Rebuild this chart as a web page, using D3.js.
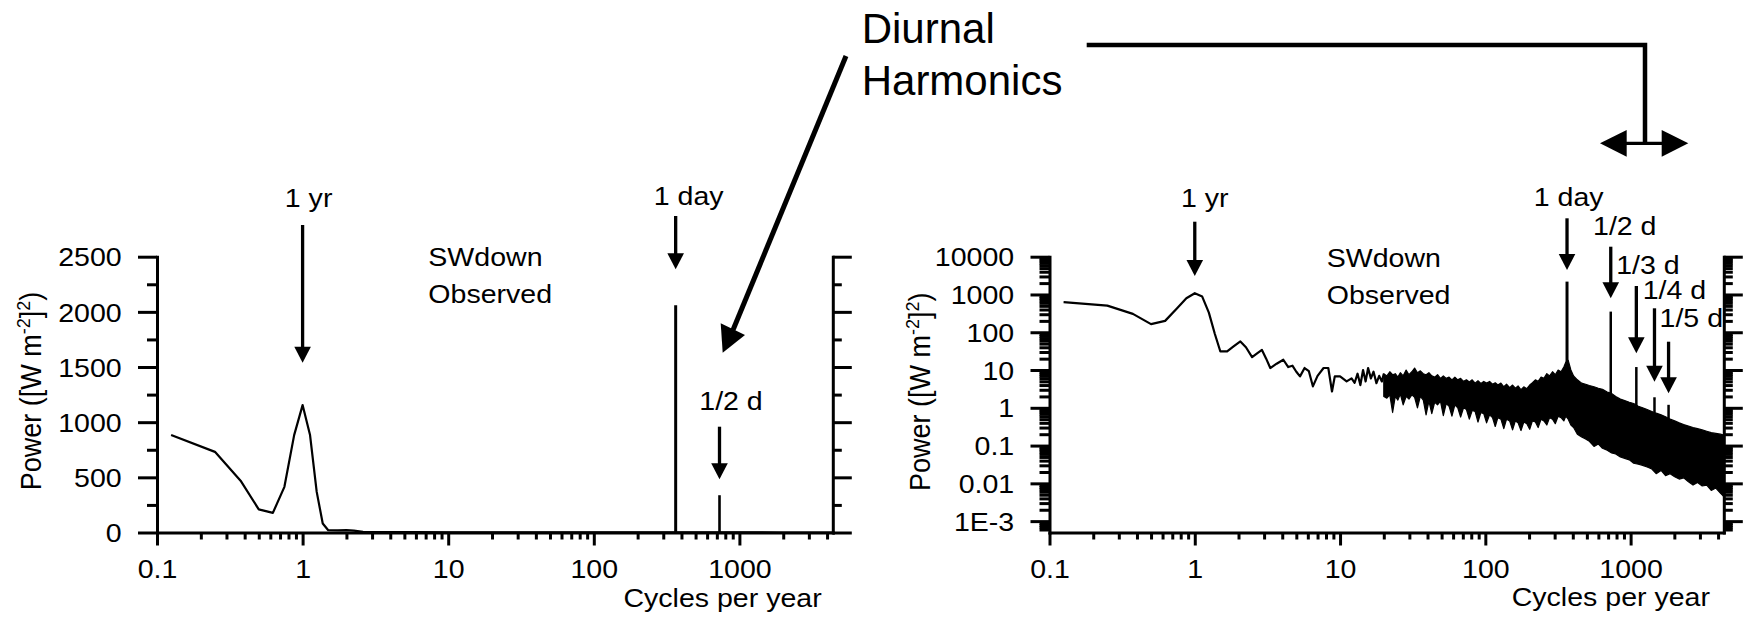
<!DOCTYPE html>
<html>
<head>
<meta charset="utf-8">
<script src="https://cdn.jsdelivr.net/npm/d3@7"></script>
<style>
  body { margin: 0; background: #fff; }
  text { fill: #000; }
</style>
</head>
<body>
<svg id="chart" width="1751" height="617"></svg>
<script>
// ---- data (cycles per year -> power, [W m-2]^2) ----

// linear panel, smooth part of the spectrum
const linFreq  = [0.125, 0.25, 0.375, 0.5, 0.625, 0.75, 0.875, 1.0, 1.125, 1.25, 1.375, 1.5, 1.75, 2.0, 2.25, 2.6, 3.0, 4.0, 6.0, 10, 20, 50, 100, 200, 300, 500, 1000, 2000, 4380];
const linPower = [883, 731, 470, 209, 178, 414, 883, 1155, 883, 368, 82, 21, 20, 21, 17, 6, 4, 3, 3, 2, 2, 1.5, 1, 1, 1, 0.5, 0.3, 0.2, 0.2];

// log panel, low-frequency line
const logFreq  = [0.125, 0.25, 0.375, 0.5, 0.625, 0.75, 0.875, 1.0, 1.125, 1.25, 1.375, 1.5, 1.67, 1.85, 2.06, 2.25, 2.48, 2.7, 2.9, 3.1, 3.31, 3.66, 4.07, 4.4, 4.7, 5.0, 5.3, 5.7, 6.1, 6.5, 7.0, 7.7, 8.3, 8.8, 9.2, 10.0, 11.1, 12.0, 12.6, 13.2, 13.8, 14.4, 15.0, 15.6, 16.3, 17.0, 17.8, 18.6, 19.4, 20];
const logPower = [624, 508, 307, 164, 200, 420, 796, 1080, 880, 330, 90, 31, 31, 42, 57, 40, 22, 28, 34, 20, 11.3, 14.7, 18.7, 12, 13, 9, 6.8, 11.3, 9.3, 3.7, 7, 11.3, 11.3, 2.7, 6.8, 6.8, 5, 6, 4.6, 8, 4, 10, 5, 11.3, 6, 9, 4.5, 7, 5, 8];

// log panel, dense high-frequency part: upper / lower envelope
const bandFreq = [20, 21, 22, 23, 24, 25, 26, 27.2, 28.5, 29.8, 31.2, 32.6, 34.1, 35.7, 37.4, 39.1, 40.9, 42.8, 44.8, 46.9,
                  49.1, 51.4, 53.8, 56.3, 58.9, 61.7, 64.6, 67.6, 70.8, 74.1, 77.6, 81.2, 85, 89, 93.2, 97.5, 102, 107, 112, 117,
                  122, 128, 134, 140, 147, 154, 161, 168, 176, 184, 193, 202, 211, 221, 231, 242, 253, 265, 277, 290,
                  303, 317, 332, 347, 358, 372, 388, 405, 430, 460, 490, 520, 560, 600, 640, 690, 740, 790, 850, 910,
                  980, 1050, 1130, 1210, 1300, 1400, 1500, 1620, 1740, 1870, 2010, 2160, 2320, 2500, 2690, 2890, 3110, 3340, 3590, 3860,
                  4150, 4380];
const bandHi   = [8, 7, 9, 7.5, 8, 6.5, 8.5, 7, 10, 7.5, 9, 11.3, 8.5, 9.5, 8, 7.5, 8.5, 7, 6.5, 7.5,
                  6, 7, 6, 6.5, 5.5, 6.5, 5.5, 6, 5, 5.5, 4.8, 5.5, 4.5, 5.2, 4.4, 5, 4.5, 5, 4.2, 4.6,
                  4, 4.5, 3.6, 4.2, 3.4, 4, 3.3, 3.8, 3, 3.6, 3.2, 4, 4.6, 5.5, 5, 6.5, 6, 8, 7, 9,
                  7.5, 10, 9, 12, 16, 18, 10, 7, 5.5, 4.5, 4.2, 3.9, 3.6, 3.3, 3.1, 2.6, 2.4, 2.0, 1.7, 1.55,
                  1.4, 1.3, 1.1, 1.0, 0.9, 0.8, 0.72, 0.65, 0.58, 0.5, 0.45, 0.4, 0.36, 0.33, 0.3, 0.28, 0.26, 0.24, 0.22, 0.21,
                  0.2, 0.19];
const bandLo   = [2, 1.8, 2.2, 0.75, 2, 1.6, 2.3, 1.2, 2, 1.7, 2.2, 1.9, 1.0, 2, 1.6, 0.65, 1.5, 0.7, 1.4, 1.2,
                  1.5, 0.62, 1.3, 1.1, 0.6, 1.2, 1.0, 0.57, 1.0, 0.9, 0.5, 0.85, 0.8, 0.42, 0.75, 0.7, 0.4, 0.65, 0.55, 0.32,
                  0.55, 0.5, 0.28, 0.5, 0.45, 0.26, 0.45, 0.4, 0.25, 0.42, 0.38, 0.27, 0.45, 0.42, 0.3, 0.5, 0.45, 0.35, 0.55, 0.5,
                  0.38, 0.6, 0.55, 0.45, 0.6, 0.5, 0.35, 0.3, 0.2, 0.17, 0.15, 0.13, 0.095, 0.11, 0.085, 0.075, 0.064, 0.06, 0.05, 0.046,
                  0.042, 0.034, 0.032, 0.03, 0.027, 0.024, 0.018, 0.022, 0.016, 0.018, 0.015, 0.013, 0.014, 0.011, 0.009, 0.0105, 0.0085, 0.009, 0.0065, 0.0075,
                  0.0055, 0.0045];

// diurnal harmonics
const harmFreq    = [365, 730, 1095, 1460, 1825];
const harmLabel   = ['1 day', '1/2 d', '1/3 d', '1/4 d', '1/5 d'];
const harmPeakLin = [2060, 338];
const harmPeakLog = [2190, 352, 12, 1.9, 1.2];
const harmBaseLog = [1, 0.2, 0.1, 0.05, 0.04];

// axes
const xMajor = [0.1, 1, 10, 100, 1000];
const xMajorLabels = ['0.1', '1', '10', '100', '1000'];
const linMajor = [0, 500, 1000, 1500, 2000, 2500];
const linMinor = [250, 750, 1250, 1750, 2250];
const logMajor = [1e-3, 1e-2, 0.1, 1, 10, 100, 1000, 10000];
const logMajorLabels = ['1E-3', '0.01', '0.1', '1', '10', '100', '1000', '10000'];

// ---- drawing ----
const FONT = '"Liberation Sans", Arial, Helvetica, sans-serif';
const FS = 25.5;        // plot text size
const SX = 1.12;        // the plot text is a bit wider than it is tall
const svg = d3.select('#chart').attr('font-family', FONT);

function logMinor(lo, hi) {
  const out = [];
  for (let e = -4; e <= 4; e++) {
    for (let k = 2; k <= 9; k++) {
      const v = k * Math.pow(10, e);
      if (v > lo && v < hi) out.push(v);
    }
  }
  return out;
}

function label(g, x, y, s, anchor) {
  return g.append('text')
    .attr('transform', `translate(${x},${y}) scale(${SX},1)`)
    .attr('text-anchor', anchor || 'middle')
    .attr('font-size', FS)
    .text(s);
}

function arrow(g, x, y0, y1, w) {
  const head = 16, half = 8.3;
  g.append('line')
    .attr('x1', x).attr('x2', x)
    .attr('y1', y0).attr('y2', y1 - head + 1)
    .attr('stroke', '#000').attr('stroke-width', w || 3.3);
  g.append('path')
    .attr('d', `M${x},${y1}L${x - half},${y1 - head}L${x + half},${y1 - head}Z`)
    .attr('fill', '#000');
}

function styleAxis(sel) {
  sel.attr('font-size', FS).attr('font-family', FONT);
  sel.selectAll('line,path').attr('stroke', '#000').attr('stroke-width', 3);
  sel.select('.domain').attr('stroke-linecap', 'square');
}

function drawAxes(g, x, y, yMajor, yMinor, yFmt) {
  const [x0, x1] = x.range();
  const [yb] = y.range();
  const xDom = x.domain();
  const xMinor = logMinor(xDom[0], xDom[1]);

  // bottom axis
  const bx = g.append('g').attr('transform', `translate(0,${yb})`)
    .call(d3.axisBottom(x).tickValues(xMajor).tickSize(13).tickSizeOuter(0)
      .tickFormat((d, i) => xMajorLabels[i]));
  const bxm = g.append('g').attr('transform', `translate(0,${yb})`)
    .call(d3.axisBottom(x).tickValues(xMinor).tickSize(7).tickSizeOuter(0).tickFormat(''));
  bxm.select('.domain').remove();
  styleAxis(bx); styleAxis(bxm);
  bx.selectAll('text').attr('y', 45.5).attr('dy', 0)
    .attr('transform', `scale(${SX},1)`);

  // left axis
  const ly = g.append('g').attr('transform', `translate(${x0},0)`)
    .call(d3.axisLeft(y).tickValues(yMajor).tickSize(19).tickSizeOuter(0).tickFormat(yFmt));
  const lym = g.append('g').attr('transform', `translate(${x0},0)`)
    .call(d3.axisLeft(y).tickValues(yMinor).tickSize(10).tickSizeOuter(0).tickFormat(''));
  lym.select('.domain').remove();
  styleAxis(ly); styleAxis(lym);
  ly.selectAll('text').attr('x', -35.3 / SX).attr('dy', '0.36em')
    .attr('transform', `scale(${SX},1)`);

  // right mirror axis, no labels
  const ry = g.append('g').attr('transform', `translate(${x1},0)`)
    .call(d3.axisRight(y).tickValues(yMajor).tickSize(19).tickSizeOuter(0).tickFormat(''));
  const rym = g.append('g').attr('transform', `translate(${x1},0)`)
    .call(d3.axisRight(y).tickValues(yMinor).tickSize(9).tickSizeOuter(0).tickFormat(''));
  rym.select('.domain').remove();
  styleAxis(ry); styleAxis(rym);
}

function yTitle(g, x, y) {
  const t = g.append('text')
    .attr('transform', `translate(${x},${y}) rotate(-90) scale(1,1.06)`)
    .attr('text-anchor', 'middle')
    .attr('font-size', 27);
  t.append('tspan').text('Power ([W m');
  t.append('tspan').attr('dy', -10).attr('font-size', 18).text('-2');
  t.append('tspan').attr('dy', 10).text(']');
  t.append('tspan').attr('dy', -10).attr('font-size', 18).text('2');
  t.append('tspan').attr('dy', 10).text(')');
}

// ===== left panel: linear power =====
{
  const g = svg.append('g');
  const x = d3.scaleLog().domain([0.1, 4380]).range([157, 832.8]);
  const y = d3.scaleLinear().domain([0, 2500]).range([532.5, 256.7]);

  const pts = linFreq.map((f, i) => [f, linPower[i]]);
  g.append('path')
    .attr('d', d3.line().x(d => x(d[0])).y(d => y(d[1]))(pts))
    .attr('fill', 'none').attr('stroke', '#000').attr('stroke-width', 2.2)
    .attr('stroke-linejoin', 'round');

  harmPeakLin.forEach((p, i) => {
    g.append('line')
      .attr('x1', x(harmFreq[i])).attr('x2', x(harmFreq[i]))
      .attr('y1', y(0)).attr('y2', y(p))
      .attr('stroke', '#000').attr('stroke-width', i === 0 ? 3 : 2.6);
  });

  drawAxes(g, x, y, linMajor, linMinor, d => String(d));
  yTitle(g, 41, 391);

  label(g, x(1) + 6, 206.7, '1 yr');
  arrow(g, x(1), 225, 362.7);
  label(g, x(harmFreq[0]) + 13, 205, harmLabel[0]);
  arrow(g, x(harmFreq[0]), 216, 269.3);
  label(g, x(harmFreq[1]) + 11.5, 410, harmLabel[1]);
  arrow(g, x(harmFreq[1]), 426.7, 479.3);

  label(g, 428.3, 266, 'SWdown', 'start');
  label(g, 428.3, 302.7, 'Observed', 'start');
  label(g, 821.7, 607, 'Cycles per year', 'end');
}

// ===== right panel: log power =====
{
  const g = svg.append('g');
  const x = d3.scaleLog().domain([0.1, 4380]).range([1049.5, 1723.8]);
  const y = d3.scaleLog().domain([5e-4, 1e4]).range([532.5, 256.7]);

  const band = bandFreq.map((f, i) => ({ f, hi: bandHi[i], lo: bandLo[i] }));
  g.append('path')
    .attr('d', d3.area().x(d => x(d.f)).y0(d => y(d.lo)).y1(d => y(d.hi))(band))
    .attr('fill', '#000').attr('stroke', '#000').attr('stroke-width', 1.2)
    .attr('stroke-linejoin', 'round');

  const pts = logFreq.map((f, i) => [f, logPower[i]]);
  g.append('path')
    .attr('d', d3.line().x(d => x(d[0])).y(d => y(d[1]))(pts))
    .attr('fill', 'none').attr('stroke', '#000').attr('stroke-width', 2.2)
    .attr('stroke-linejoin', 'round');

  harmPeakLog.forEach((p, i) => {
    g.append('line')
      .attr('x1', x(harmFreq[i])).attr('x2', x(harmFreq[i]))
      .attr('y1', y(harmBaseLog[i])).attr('y2', y(p))
      .attr('stroke', '#000').attr('stroke-width', i === 0 ? 3 : 2.5);
  });

  drawAxes(g, x, y, logMajor, logMinor(5e-4, 1e4), (d, i) => logMajorLabels[i]);
  yTitle(g, 930, 391.7);

  label(g, x(1) + 10, 206.7, '1 yr');
  arrow(g, x(1), 221.7, 276);

  // harmonic labels: text offset, text baseline, arrow start, arrow tip
  const notes = [
    [1.6, 206, 218.3, 270],
    [14, 235, 246.7, 298.3],
    [11.6, 274, 286, 353.3],
    [20, 299, 308.3, 381.7],
    [22.7, 326.7, 341.7, 393.3]
  ];
  notes.forEach((n, i) => {
    const hx = x(harmFreq[i]);
    label(g, hx + n[0], n[1], harmLabel[i]);
    arrow(g, hx, n[2], n[3]);
  });

  label(g, 1326.7, 266.7, 'SWdown', 'start');
  label(g, 1326.7, 304, 'Observed', 'start');
  label(g, 1710, 606, 'Cycles per year', 'end');
}

// ===== "Diurnal Harmonics" callout =====
{
  const g = svg.append('g');
  g.append('text').attr('x', 861.7).attr('y', 43.3).attr('font-size', 42).text('Diurnal');
  g.append('text').attr('x', 861.7).attr('y', 95).attr('font-size', 42).text('Harmonics');

  // long arrow to the left panel
  g.append('line')
    .attr('x1', 846).attr('y1', 56).attr('x2', 733).attr('y2', 330)
    .attr('stroke', '#000').attr('stroke-width', 5);
  g.append('path')
    .attr('d', 'M722.7,352.7L720.7,323.3L745,335Z')
    .attr('fill', '#000');

  // bracket to the right panel
  g.append('path')
    .attr('d', 'M1086.7,45H1645V143')
    .attr('fill', 'none').attr('stroke', '#000').attr('stroke-width', 4.5);
  g.append('line')
    .attr('x1', 1620).attr('x2', 1668).attr('y1', 143.3).attr('y2', 143.3)
    .attr('stroke', '#000').attr('stroke-width', 3.3);
  g.append('path').attr('d', 'M1600,143.3L1626.7,130L1626.7,156.7Z').attr('fill', '#000');
  g.append('path').attr('d', 'M1688.3,143.3L1661.7,130L1661.7,156.7Z').attr('fill', '#000');
}
</script>
</body>
</html>
